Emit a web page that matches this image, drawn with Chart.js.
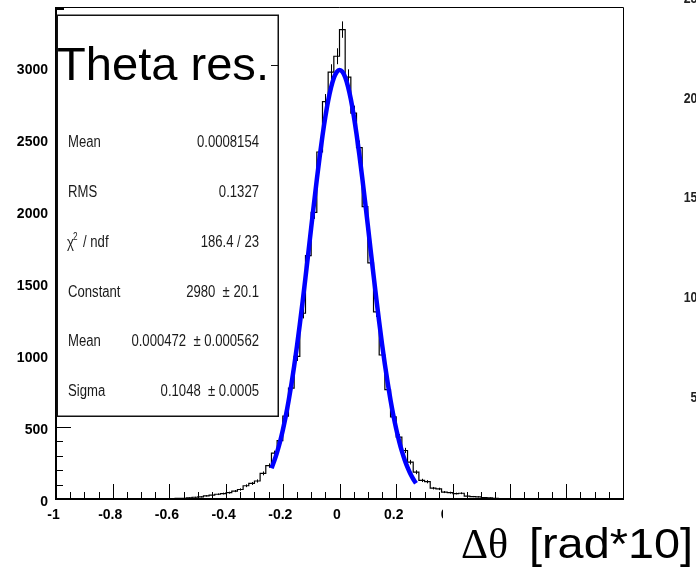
<!DOCTYPE html>
<html>
<head>
<meta charset="utf-8">
<script src="https://cdn.jsdelivr.net/npm/chart.js@4.4.1/dist/chart.umd.min.js"></script>
<style>
html,body{margin:0;padding:0;background:#fff;}
#wrap{position:relative;width:696px;height:573px;background:#fff;}
</style>
</head>
<body>
<div id="wrap"><canvas id="c" width="696" height="573"></canvas></div>
<script>
// ---------------- data ----------------
const binLow = -1.0;
const binWidth = 0.02;
// histogram bin contents, 100 bins from -1 to 1
const counts = [
  0,0,0,1,0,0,1,0,0,1,
  0,1,1,0,2,1,1,2,2,3,
  2,4,5,8,12,15,22,27,33,38,
  44,55,66,92,108,125,178,232,318,405,
  575,770,990,1290,1690,1990,2410,2760,2965,3075,
  3260,2930,2680,2440,2030,1640,1300,1000,760,570,
  430,337,256,186,129,120,75,70,48,44,
  38,40,20,17,15,10,8,4,3,2,
  2,1,2,1,0,1,1,0,0,1,
  0,0,0,1,0,0,0,0,0,0
];
// gaussian fit curve (blue)
const fitX = [-0.24,-0.23,-0.22,-0.21,-0.20,-0.19,-0.18,-0.17,-0.16,-0.15,-0.14,-0.13,-0.12,-0.11,-0.10,-0.09,-0.08,-0.07,-0.06,-0.05,-0.04,-0.03,-0.02,-0.01,0,
  0.01,0.02,0.03,0.04,0.05,0.06,0.07,0.08,0.09,0.10,0.11,0.12,0.13,0.14,0.15,0.16,0.17,0.18,0.19,0.20,0.21,0.22,0.23,0.24,0.25,0.26,0.27];
const fitY = [214,265,326,396,478,571,676,793,922,1063,1213,1372,1539,1709,1882,2052,2219,2376,2523,2653,2766,2856,2924,2965,2980,
  2968,2929,2864,2776,2665,2536,2392,2235,2069,1899,1726,1556,1389,1229,1077,936,806,687,581,487,404,332,271,219,175,139,109];
const xTickValues = [-1,-0.8,-0.6,-0.4,-0.2,0,0.2,0.4,0.6,0.8,1];
const xTickLabels = ['-1','-0.8','-0.6','-0.4','-0.2','0','0.2','0.4','0.6','0.8','1'];
const yTickValues = [0,500,1000,1500,2000,2500,3000];
const yTickLabels = ['0','500','1000','1500','2000','2500','3000'];
const statsNames = ['Mean','RMS','CHI','Constant','Mean','Sigma'];
const statsValues = ['0.0008154','0.1327','186.4 / 23','2980  \u00b1 20.1','0.000472  \u00b1 0.000562','0.1048  \u00b1 0.0005'];
const histTitle = 'Theta res.';
const xTitleSym = '\u0394\u03b8';
const xTitleUnit = '[rad*10]';
const sideLabels = ['2500','2000','1500','1000','500'];

// ---------------- fonts ----------------
function fontAvailable(name) {
  const c = document.createElement('canvas').getContext('2d');
  c.font = '40px monospace';
  const a = c.measureText('Mean 0.0008154').width;
  c.font = '40px "' + name + '", monospace';
  const b = c.measureText('Mean 0.0008154').width;
  return Math.abs(a - b) > 0.5;
}
const hasNarrow = fontAvailable('Liberation Sans Narrow');
const narrowFamily = hasNarrow ? '"Liberation Sans Narrow"' : '"Liberation Sans"';
const narrowScale = hasNarrow ? 1 : 0.82;
const tickFont = hasNarrow
  ? {family: '"Liberation Sans Narrow", "Liberation Sans", sans-serif', weight: 'bold', size: 17}
  : {family: '"Liberation Sans", sans-serif', weight: 'bold', size: 14};

function scaledText(ctx, txt, px, py, font, align, sx) {
  ctx.save();
  ctx.font = font;
  ctx.translate(px, py);
  ctx.scale(sx, 1);
  ctx.textAlign = align;
  ctx.fillText(txt, 0, 0);
  ctx.restore();
}

// ---------------- ROOT-style decorations ----------------
const rootStyle = {
  id: 'rootStyle',
  beforeDatasetsDraw(chart) {
    const {ctx, chartArea: a, scales: {x, y}} = chart;
    ctx.save();
    ctx.beginPath();
    ctx.rect(a.left, a.top, a.right - a.left, a.bottom - a.top);
    ctx.clip();
    ctx.strokeStyle = '#000';
    ctx.lineWidth = 1;
    ctx.beginPath();
    counts.forEach((c, i) => {
      if (c <= 0) return;
      const e = Math.sqrt(c);
      const px = Math.round(x.getPixelForValue(binLow + (i + 0.5) * binWidth)) + 0.5;
      ctx.moveTo(px, y.getPixelForValue(c - e));
      ctx.lineTo(px, y.getPixelForValue(c + e));
    });
    ctx.stroke();
    ctx.restore();
  },
  afterDraw(chart) {
    const {ctx, chartArea: a, scales: {x, y}} = chart;
    ctx.save();
    ctx.strokeStyle = '#000';
    ctx.fillStyle = '#000';
    // top & right frame
    ctx.lineWidth = 1;
    ctx.beginPath();
    ctx.moveTo(a.left, a.top + 0.5);
    ctx.lineTo(a.right + 0.5, a.top + 0.5);
    ctx.lineTo(a.right + 0.5, a.bottom);
    ctx.stroke();
    // axes lines
    ctx.lineWidth = 2;
    ctx.beginPath();
    ctx.moveTo(a.left, a.top);
    ctx.lineTo(a.left, a.bottom);
    ctx.lineTo(a.right + 1, a.bottom);
    ctx.stroke();
    ctx.fillRect(a.left - 1, a.top, 9, 3);
    // inward ticks
    ctx.lineWidth = 1;
    ctx.beginPath();
    for (let k = 0; k <= 40; k++) {
      const v = x.min + k * 0.05;
      const px = Math.round(x.getPixelForValue(v)) + 0.5;
      const len = (k % 4 === 0) ? 15 : 7;
      ctx.moveTo(px, a.bottom);
      ctx.lineTo(px, a.bottom - len);
    }
    for (let k = 1; k * 100 <= y.max; k++) {
      const py = Math.round(y.getPixelForValue(k * 100)) + 0.5;
      const len = (k % 5 === 0) ? 15 : 7;
      ctx.moveTo(a.left, py);
      ctx.lineTo(a.left + len, py);
    }
    ctx.stroke();

    // statistics box
    ctx.fillStyle = '#fff';
    ctx.fillRect(57, 15, 221, 401);
    ctx.lineWidth = 1.5;
    ctx.strokeStyle = '#111';
    ctx.strokeRect(57.25, 15.25, 221, 401);
    ctx.lineWidth = 1;
    ctx.beginPath();
    ctx.moveTo(271, 65.5); ctx.lineTo(278, 65.5);
    ctx.stroke();

    ctx.fillStyle = '#1a1a1a';
    ctx.textBaseline = 'middle';
    const rowY = [143, 193, 243, 293, 342, 392];
    const f = '16px ' + narrowFamily;
    statsNames.forEach((n, i) => {
      if (n === 'CHI') {
        scaledText(ctx, '\u03c7', 67, rowY[i] + 1, f, 'left', narrowScale);
        scaledText(ctx, '2', 73, rowY[i] - 6, '10px ' + narrowFamily, 'left', narrowScale);
        scaledText(ctx, '/ ndf', 83, rowY[i], f, 'left', narrowScale);
      } else {
        scaledText(ctx, n, 68, rowY[i], f, 'left', narrowScale);
      }
      scaledText(ctx, statsValues[i], 259, rowY[i], f, 'right', narrowScale);
    });

    // histogram title
    ctx.fillStyle = '#000';
    ctx.textBaseline = 'alphabetic';
    ctx.font = '46px "Liberation Sans"';
    const tw = ctx.measureText(histTitle).width;
    scaledText(ctx, histTitle, 57, 80, '46px "Liberation Sans"', 'left', 212 / tw);

    // x axis title with its white pave
    ctx.fillStyle = '#fff';
    ctx.fillRect(443, 507, 253, 66);
    ctx.fillStyle = '#000';
    scaledText(ctx, xTitleSym, 461, 558, '42px "Liberation Serif"', 'left', 1);
    ctx.font = '43px "Liberation Sans"';
    const uw = ctx.measureText(xTitleUnit).width;
    scaledText(ctx, xTitleUnit, 529, 558, '43px "Liberation Sans"', 'left', 164 / uw);

    // neighbouring pad's y labels (cut by the right edge)
    ctx.fillStyle = '#222';
    ctx.textBaseline = 'middle';
    const sideY = [-1, 99, 198, 298, 398];
    sideLabels.forEach((t, i) => {
      scaledText(ctx, t, 711, sideY[i], 'bold 15px ' + narrowFamily, 'right', narrowScale);
    });
    ctx.restore();
  }
};

// ---------------- chart ----------------
const histPoints = [];
counts.forEach((c, i) => {
  histPoints.push({x: binLow + i * binWidth, y: c});
  histPoints.push({x: binLow + (i + 1) * binWidth, y: c});
});
const fitPoints = fitX.map((v, i) => ({x: v, y: fitY[i]}));

new Chart(document.getElementById('c'), {
  type: 'line',
  data: {
    datasets: [
      {
        label: 'fit',
        data: fitPoints,
        borderColor: '#0000ff',
        borderWidth: 4.5,
        pointRadius: 0,
        cubicInterpolationMode: 'monotone',
        fill: false,
        order: 0
      },
      {
        label: 'hist',
        data: histPoints,
        borderColor: '#000',
        borderWidth: 1.2,
        pointRadius: 0,
        tension: 0,
        fill: false,
        order: 1
      }
    ]
  },
  options: {
    responsive: false,
    animation: false,
    devicePixelRatio: 1,
    layout: {padding: {left: 0, right: 73, top: 7, bottom: 0}},
    plugins: {legend: {display: false}, tooltip: {enabled: false}, title: {display: false}},
    scales: {
      x: {
        type: 'linear', min: -1, max: 1,
        grid: {display: false, drawTicks: false},
        border: {display: false},
        ticks: {font: tickFont, color: '#000', padding: 8, maxRotation: 0, autoSkip: false,
                labelOffset: -2.5,
                callback: (v, i) => xTickLabels[i]},
        afterBuildTicks: s => { s.ticks = xTickValues.map(v => ({value: v})); },
        afterFit: s => { s.height = 74; s.paddingLeft = 0; s.paddingRight = 0; }
      },
      y: {
        type: 'linear', min: 0, max: 3417,
        grid: {display: false, drawTicks: false},
        border: {display: false},
        ticks: {font: tickFont, color: '#000', padding: 8, autoSkip: false,
                labelOffset: 3,
                callback: (v, i) => yTickLabels[i]},
        afterBuildTicks: s => { s.ticks = yTickValues.map(v => ({value: v})); },
        afterFit: s => { s.width = 56; s.paddingTop = 0; s.paddingBottom = 0; }
      }
    }
  },
  plugins: [rootStyle]
});
</script>
</body>
</html>
